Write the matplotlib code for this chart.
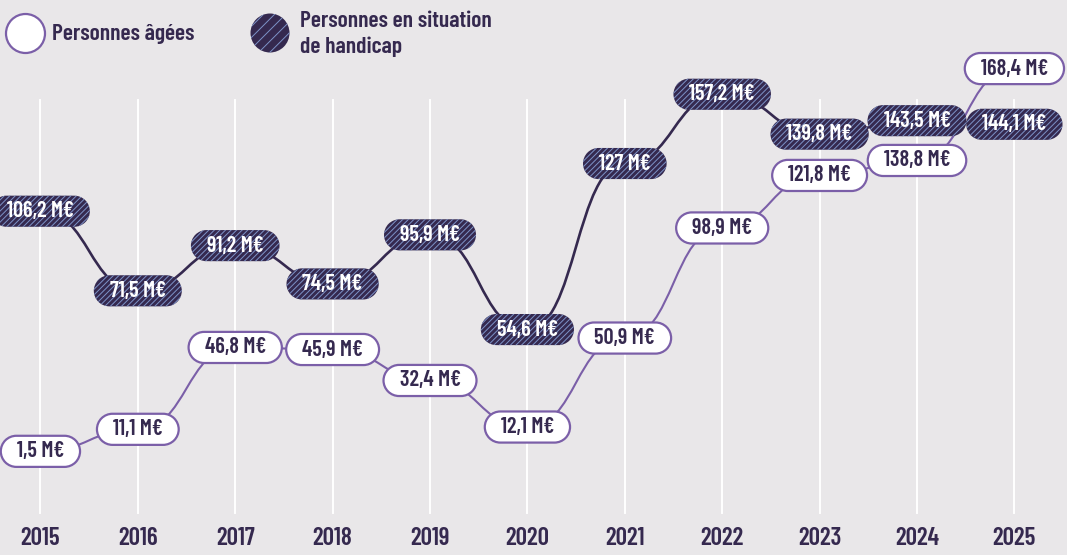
import numpy as np
import matplotlib
matplotlib.use('Agg')
import matplotlib.pyplot as plt
from matplotlib.path import Path
from matplotlib.patches import PathPatch, Ellipse
import matplotlib.transforms as mtransforms

# values (M€) per year
years = [2015, 2016, 2017, 2018, 2019, 2020, 2021, 2022, 2023, 2024, 2025]
agees = [1.5, 11.1, 46.8, 45.9, 32.4, 12.1, 50.9, 98.9, 121.8, 138.8, 168.4]
handicap = [106.2, 71.5, 91.2, 74.5, 95.9, 54.6, 127.0, 157.2, 139.8, 143.5, 144.1]
legend_agees = 'Personnes âgées'
legend_handicap = 'Personnes en situation\nde handicap'

# pixel nudges so overlapping labels don't collide (2024)
nudge_agees = {2024: -24}
nudge_handicap = {2024: 5}

BG = '#e9e7e9'
DARK = '#35294f'
PURPLE = '#7b5fa8'
HATCH = '#7d93c8'
FONT = ['Barlow Condensed', 'Roboto Condensed', 'Roboto', 'DejaVu Sans']
plt.rcParams['hatch.linewidth'] = 0.7

W, H = 1067, 555
fig = plt.figure(figsize=(W / 100, H / 100), dpi=100, facecolor=BG)
ax = fig.add_axes([0, 0, 1, 1])
ax.set_xlim(2014.585, 2025.54)
ax.set_ylim(-43.7, 198.3)
ax.axis('off')
px_per_unit = H / (198.3 + 43.7)

for y in years:
    ax.axvline(y, ymin=0.076, ymax=0.82, color='white', lw=1.4, zorder=0)

xt = mtransforms.blended_transform_factory(ax.transData, ax.transAxes)
for y in years:
    ax.text(y, 0.03, str(y), transform=xt, ha='center', va='center', fontsize=18,
            fontweight='semibold', color=DARK, family=FONT)


def pill(x0, y0, width, height, mutation_size):
    # pill shaped box: fixed height, half-circle ends
    padx = 0.72 * mutation_size
    h = 1.4 * mutation_size
    r = h / 2
    cy = y0 + height / 2
    xa, xb = x0 - padx + r, x0 + width + padx - r
    a1 = Path.arc(-90, 90)
    a2 = Path.arc(90, 270)
    verts = np.concatenate([a1.vertices * r + [xb, cy], a2.vertices * r + [xa, cy],
                            [[xb, cy - r]]])
    codes = np.concatenate([a1.codes, a2.codes, [Path.CLOSEPOLY]])
    codes[len(a1.codes)] = Path.LINETO
    return Path(verts, codes)


def smooth(xs, ys):
    verts = [(xs[0], ys[0])]
    codes = [Path.MOVETO]
    for i in range(len(xs) - 1):
        dx = xs[i + 1] - xs[i]
        verts += [(xs[i] + dx / 2, ys[i]), (xs[i + 1] - dx / 2, ys[i + 1]), (xs[i + 1], ys[i + 1])]
        codes += [Path.CURVE4] * 3
    return Path(verts, codes)


def fmt(v):
    return ('%g' % v).replace('.', ',') + ' M€'


def draw_series(vals, nudge, line_color, lw, box, txt_color, z):
    ys = [v + nudge.get(yr, 0) / px_per_unit for yr, v in zip(years, vals)]
    ax.add_patch(PathPatch(smooth(years, ys), fill=False, edgecolor=line_color, lw=lw,
                           zorder=z, capstyle='round'))
    for yr, v, yy in zip(years, vals, ys):
        ax.text(yr, yy, fmt(v), ha='center', va='center', fontsize=16, fontweight='semibold',
                color=txt_color, family=FONT, bbox=dict(boxstyle=pill, **box), zorder=z + 3)


draw_series(agees, nudge_agees, PURPLE, 1.5, dict(facecolor='white', edgecolor=PURPLE, lw=1.6),
            DARK, 2)
draw_series(handicap, nudge_handicap, DARK, 1.9,
            dict(facecolor=DARK, edgecolor=HATCH, lw=0, hatch='//////'), 'white', 3)

# legend
ax.add_patch(Ellipse((25.5 / W, 1 - 33.5 / H), 39 / W, 39 / H, transform=ax.transAxes,
                     facecolor='white', edgecolor=PURPLE, lw=1.6, zorder=5))
ax.text(52 / W, 1 - 34 / H, legend_agees, transform=ax.transAxes, ha='left', va='center',
        fontsize=17, fontweight='semibold', color=DARK, family=FONT)
ax.add_patch(Ellipse((270 / W, 1 - 33 / H), 39 / W, 39 / H, transform=ax.transAxes,
                     facecolor=DARK, edgecolor=HATCH, lw=0, hatch='///', zorder=5))
ax.text(300 / W, 1 - 34 / H, legend_handicap, transform=ax.transAxes, ha='left', va='center',
        fontsize=17, fontweight='semibold', color=DARK, family=FONT, linespacing=1.35)

fig.savefig('out.png', facecolor=BG)
